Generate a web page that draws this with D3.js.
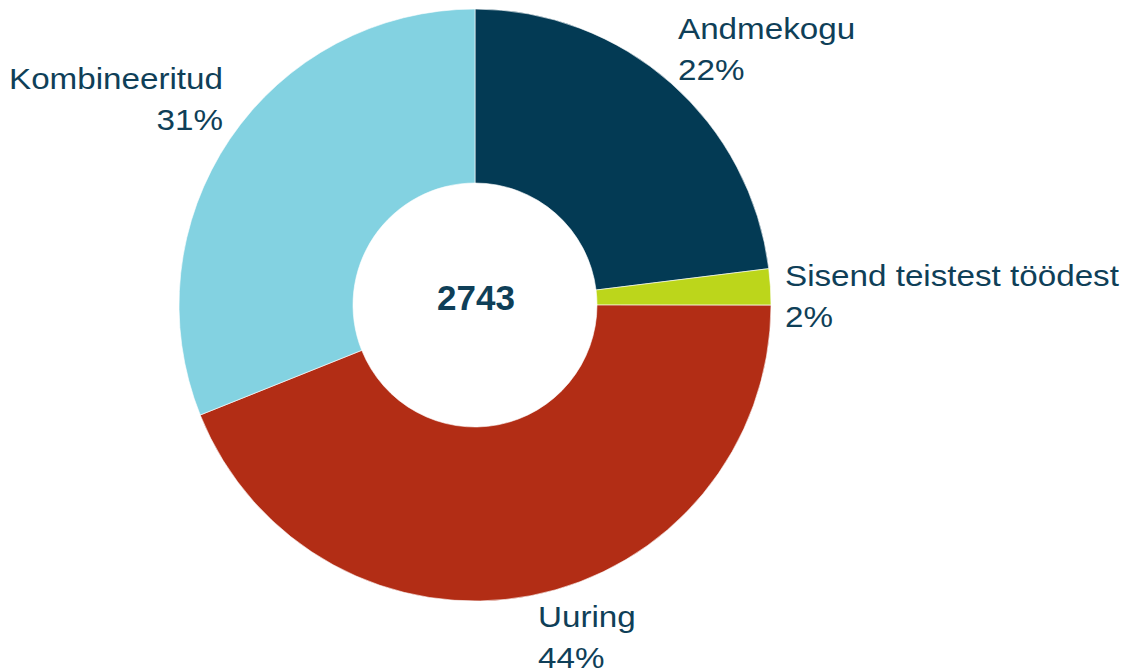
<!DOCTYPE html>
<html>
<head>
<meta charset="utf-8">
<script src="https://cdn.jsdelivr.net/npm/d3@7"></script>
<style>
  html, body { margin: 0; padding: 0; background: #fff; }
  svg { display: block; }
</style>
</head>
<body>
<script>
// slices, clockwise from 12 o'clock
const categories = ["Andmekogu", "Sisend teistest töödest", "Uuring", "Kombineeritud"];
const counts = [632, 54, 1205, 852];
const percentLabels = ["22%", "2%", "44%", "31%"];
const colors = ["#033a54", "#bcd61b", "#b22d15", "#83d2e1"];
const total = "2743";

const width = 1122, height = 670;
const cx = 475, cy = 305;
const outerR = 296, innerR = 122;
const textColor = "#0f3f58";

const svg = d3.select("body").append("svg")
  .attr("width", width)
  .attr("height", height);

const g = svg.append("g")
  .attr("transform", "translate(" + cx + "," + cy + ")");

const pie = d3.pie().sort(null).value(d => d);
const arc = d3.arc().innerRadius(innerR).outerRadius(outerR);
const arcs = pie(counts);

g.selectAll("path")
  .data(arcs)
  .enter().append("path")
  .attr("d", arc)
  .attr("fill", (d, i) => colors[i])
  .attr("stroke", "#fff")
  .attr("stroke-width", 0.6);

// center total
g.append("text")
  .attr("x", 1)
  .attr("y", 5)
  .attr("text-anchor", "middle")
  .attr("font-family", "Liberation Sans, Arial, sans-serif")
  .attr("font-weight", "bold")
  .attr("font-size", 35)
  .attr("fill", textColor)
  .text(total);

// label anchor points; the bottom label is cut by the edge as in the original
const labelPos = [
  { x: 678, y: 39, anchor: "start" },
  { x: 785, y: 286, anchor: "start" },
  { x: 538, y: 627, anchor: "start" },
  { x: 223, y: 89, anchor: "end" }
];

const labels = svg.append("g").attr("class", "labels");
arcs.forEach((d, i) => {
  const p = labelPos[i];
  const t = labels.append("text")
    .attr("transform", "translate(" + p.x + "," + p.y + ") scale(1.145,1)")
    .attr("text-anchor", p.anchor)
    .attr("font-family", "Liberation Sans, Arial, sans-serif")
    .attr("font-size", 29)
    .attr("fill", textColor);
  t.append("tspan").attr("x", 0).attr("y", 0).text(categories[i]);
  t.append("tspan").attr("x", 0).attr("y", 41).text(percentLabels[i]);
});
</script>
</body>
</html>
